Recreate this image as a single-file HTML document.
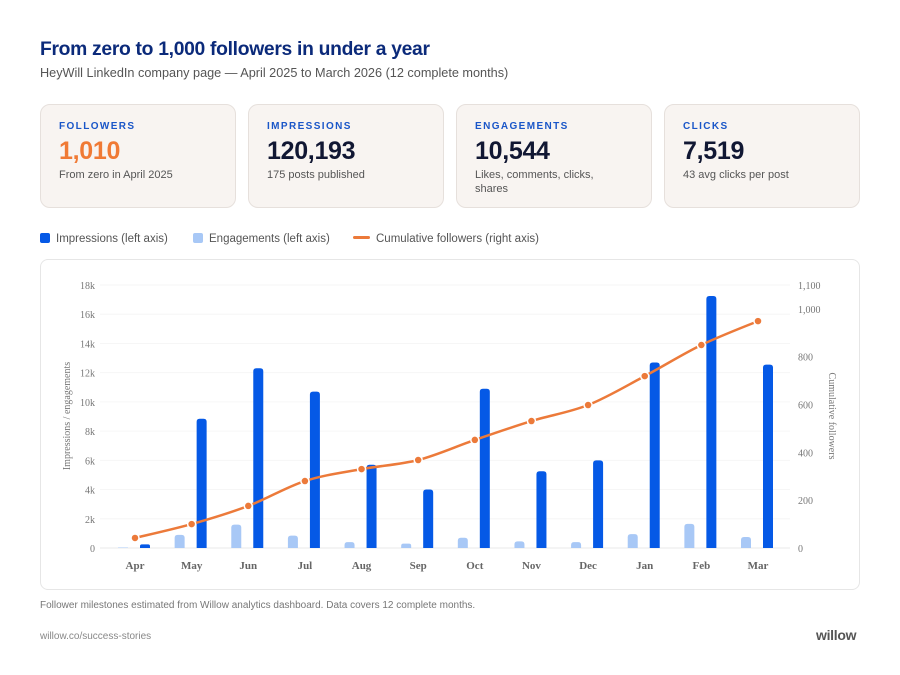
<!DOCTYPE html>
<html><head><meta charset="utf-8"><style>
body{margin:0;width:900px;height:675px;background:#fff;font-family:"Liberation Sans",sans-serif;position:relative;overflow:hidden}
.abs{position:absolute}
h1{position:absolute;left:40px;top:39px;margin:0;font-size:19.3px;font-weight:bold;color:#0b2a7a;letter-spacing:-0.3px}
.sub{left:40px;top:66px;font-size:12.7px;color:#555}
.card{position:absolute;top:104px;width:196px;height:104px;background:#f8f4f1;border:1px solid #e6e0dc;border-radius:10px;box-sizing:border-box}
.card .lab{position:absolute;left:18px;top:16px;font-size:10px;font-weight:bold;letter-spacing:1.4px;color:#1a56c8}
.card .val{position:absolute;left:18px;top:32px;font-size:25px;font-weight:bold;color:#111733;letter-spacing:-0.3px}
.card .desc{position:absolute;left:18px;top:63px;font-size:11px;color:#555;line-height:14px;width:140px}
.leg{top:233px;font-size:11.5px;color:#555}
.chartbox{left:40px;top:259px;width:820px;height:331px;border:1px solid #e6e6e6;border-radius:8px;box-sizing:border-box}
</style></head><body>
<h1>From zero to 1,000 followers in under a year</h1>
<div class="abs sub">HeyWill LinkedIn company page — April 2025 to March 2026 (12 complete months)</div>
<div class="card" style="left:40px"><div class="lab">FOLLOWERS</div><div class="val" style="color:#f07a35">1,010</div><div class="desc">From zero in April 2025</div></div>
<div class="card" style="left:248px"><div class="lab">IMPRESSIONS</div><div class="val">120,193</div><div class="desc">175 posts published</div></div>
<div class="card" style="left:456px"><div class="lab">ENGAGEMENTS</div><div class="val">10,544</div><div class="desc">Likes, comments, clicks, shares</div></div>
<div class="card" style="left:664px"><div class="lab">CLICKS</div><div class="val">7,519</div><div class="desc">43 avg clicks per post</div></div>
<div class="abs leg" style="left:40px"><span style="display:inline-block;width:10px;height:10px;background:#0559e6;border-radius:2px;vertical-align:-1px;margin-right:6px"></span>Impressions (left axis)</div>
<div class="abs leg" style="left:193px"><span style="display:inline-block;width:10px;height:10px;background:#a8c8f6;border-radius:2px;vertical-align:-1px;margin-right:6px"></span>Engagements (left axis)</div>
<div class="abs leg" style="left:353px"><span style="display:inline-block;width:17px;height:3px;background:#ec7a3a;border-radius:2px;vertical-align:3px;margin-right:6px"></span>Cumulative followers (right axis)</div>
<div class="abs chartbox"></div>
<svg class="abs" style="left:0;top:0" width="900" height="675" id="chart"></svg>
<div class="abs" style="left:40px;top:600px;font-size:10px;color:#777">Follower milestones estimated from Willow analytics dashboard. Data covers 12 complete months.</div>
<div class="abs" style="left:40px;top:631px;font-size:10px;color:#888">willow.co/success-stories</div>
<div class="abs" style="left:816px;top:627px;font-size:14px;font-weight:bold;color:#555;letter-spacing:-0.3px">willow</div>
<script>
const months=["Apr","May","Jun","Jul","Aug","Sep","Oct","Nov","Dec","Jan","Feb","Mar"];
const impressions=[250,8850,12300,10700,5700,4000,10900,5250,6000,12700,17250,12550];
const engagements=[30,900,1600,850,400,300,700,450,400,950,1650,750];
const followers=[42,100,176,280,330,368,452,531,598,719,849,949];
const leftTicks=[0,2000,4000,6000,8000,10000,12000,14000,16000,18000];
const leftTickLabels=["0","2k","4k","6k","8k","10k","12k","14k","16k","18k"];
const rightTicks=[0,200,400,600,800,1000,1100];
const rightTickLabels=["0","200","400","600","800","1,000","1,100"];
const svg=document.getElementById('chart');const NS='http://www.w3.org/2000/svg';
const y0=548,yT=285;
const yL=v=>y0-v/18000*(y0-yT);
const yR=v=>y0-v/1100*(y0-yT);
const xC=i=>135+i*(758-135)/11;
function mk(t,a,txt){const e=document.createElementNS(NS,t);for(const k in a)e.setAttribute(k,a[k]);if(txt!==undefined)e.textContent=txt;svg.appendChild(e);return e;}
const ser='font-family:"Liberation Serif",serif';
leftTicks.forEach((v,i)=>{
 const g=mk('line',{x1:100,x2:790,y1:yL(v),y2:yL(v),stroke:i==0?'#eaeaea':'#f6f6f6','stroke-width':1});
 
 const t=mk('text',{x:95,y:yL(v)+4,'text-anchor':'end','font-size':10,fill:'#777',style:ser},leftTickLabels[i]);
 
});
rightTicks.forEach((v,i)=>{
 const t=mk('text',{x:798,y:yR(v)+4,'font-size':10,fill:'#777',style:ser},rightTickLabels[i]);
 
});
let t=mk('text',{transform:'translate(70,416) rotate(-90)','text-anchor':'middle','font-size':10,fill:'#777',style:ser},'Impressions / engagements');

t=mk('text',{transform:'translate(829,416) rotate(90)','text-anchor':'middle','font-size':10,fill:'#777',style:ser},'Cumulative followers');

function bar(x,v,fill){const y=yL(v),h=y0-y;const r=Math.min(3,h/2);
 return mk('path',{d:`M${x},${y0}V${y+r}Q${x},${y} ${x+r},${y}H${x+10-r}Q${x+10},${y} ${x+10},${y+r}V${y0}Z`,fill:fill});}
months.forEach((m,i)=>{
 const c=xC(i);
 let b=bar(c-17,engagements[i],'#a8c8f6');
 b=bar(c+5,impressions[i],'#0559e6');
 const l=mk('text',{x:c,y:569,'text-anchor':'middle','font-size':11,'font-weight':'bold',fill:'#666',style:ser},m);
 
});
const pts=followers.map((v,i)=>[xC(i),yR(v)]);
let d=`M${pts[0][0]},${pts[0][1]}`;
for(let i=0;i<pts.length-1;i++){const p0=pts[Math.max(0,i-1)],p1=pts[i],p2=pts[i+1],p3=pts[Math.min(pts.length-1,i+2)];
 const c1=[p1[0]+(p2[0]-p0[0])/6,p1[1]+(p2[1]-p0[1])/6],c2=[p2[0]-(p3[0]-p1[0])/6,p2[1]-(p3[1]-p1[1])/6];
 d+=`C${c1[0]},${c1[1]} ${c2[0]},${c2[1]} ${p2[0]},${p2[1]}`;}
const ln=mk('path',{d:d,fill:'none',stroke:'#ec7a3a','stroke-width':2.5});

pts.forEach(p=>{const c=mk('circle',{cx:p[0],cy:p[1],r:4,fill:'#ec7a3a',stroke:'#fff','stroke-width':1.5});
 });
</script>
</body></html>
